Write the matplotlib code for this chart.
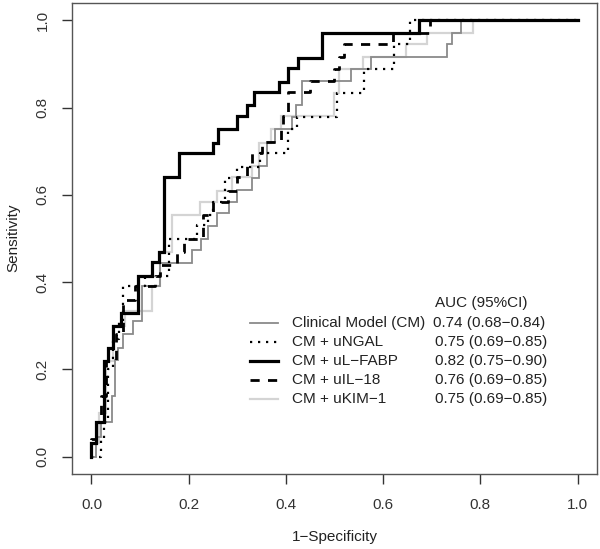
import numpy as np
import matplotlib
matplotlib.use("Agg")
import matplotlib.pyplot as plt
from matplotlib.lines import Line2D

plt.rcParams['font.family'] = ['Liberation Sans', 'DejaVu Sans']

# ROC corner points (1-specificity, sensitivity)
cm_fpr = [0, 0.01, 0.01, 0.02, 0.02, 0.042, 0.042, 0.049, 0.049, 0.054, 0.054, 0.065, 0.065, 0.085, 0.085,
          0.104, 0.104, 0.14, 0.14, 0.207, 0.207, 0.225, 0.225, 0.24, 0.24, 0.258, 0.258, 0.284, 0.284,
          0.30, 0.30, 0.33, 0.33, 0.345, 0.345, 0.361, 0.361, 0.378, 0.378, 0.413, 0.413, 0.42, 0.42,
          0.433, 0.433, 0.534, 0.534, 0.576, 0.576, 0.732, 0.732, 0.742, 0.742, 0.76, 0.76, 1.0]
cm_tpr = [0, 0, 0.045, 0.045, 0.08, 0.08, 0.138, 0.138, 0.222, 0.222, 0.25, 0.25, 0.28, 0.28, 0.31,
          0.31, 0.39, 0.39, 0.443, 0.443, 0.474, 0.474, 0.50, 0.50, 0.529, 0.529, 0.558, 0.558, 0.584,
          0.584, 0.611, 0.611, 0.639, 0.639, 0.667, 0.667, 0.722, 0.722, 0.75, 0.75, 0.779, 0.779, 0.805,
          0.805, 0.861, 0.861, 0.889, 0.889, 0.916, 0.916, 0.947, 0.947, 0.972, 0.972, 1.0, 1.0]

ngal_fpr = [0, 0.02, 0.02, 0.025, 0.025, 0.035, 0.035, 0.045, 0.045, 0.056, 0.056, 0.065, 0.065, 0.11,
            0.11, 0.16, 0.16, 0.217, 0.217, 0.24, 0.24, 0.25, 0.25, 0.275, 0.275, 0.30, 0.30, 0.347,
            0.347, 0.405, 0.405, 0.422, 0.422, 0.505, 0.505, 0.561, 0.561, 0.622, 0.622, 0.655, 0.655, 1.0]
ngal_tpr = [0, 0, 0.04, 0.04, 0.08, 0.08, 0.20, 0.20, 0.27, 0.27, 0.31, 0.31, 0.39, 0.39, 0.415,
            0.415, 0.50, 0.50, 0.53, 0.53, 0.555, 0.555, 0.584, 0.584, 0.638, 0.638, 0.665, 0.665,
            0.696, 0.696, 0.75, 0.75, 0.779, 0.779, 0.833, 0.833, 0.889, 0.889, 0.947, 0.947, 1.0, 1.0]

fabp_fpr = [0, 0, 0.01, 0.01, 0.025, 0.025, 0.035, 0.035, 0.045, 0.045, 0.06, 0.06, 0.095, 0.095, 0.125,
            0.125, 0.138, 0.138, 0.15, 0.15, 0.18, 0.18, 0.25, 0.25, 0.26, 0.26, 0.30, 0.30, 0.32, 0.32,
            0.335, 0.335, 0.385, 0.385, 0.405, 0.405, 0.425, 0.425, 0.475, 0.475, 0.673, 0.673, 1.0]
fabp_tpr = [0, 0.03, 0.03, 0.08, 0.08, 0.22, 0.22, 0.25, 0.25, 0.30, 0.30, 0.33, 0.33, 0.415, 0.415,
            0.445, 0.445, 0.47, 0.47, 0.64, 0.64, 0.695, 0.695, 0.72, 0.72, 0.75, 0.75, 0.78, 0.78,
            0.805, 0.805, 0.835, 0.835, 0.86, 0.86, 0.89, 0.89, 0.915, 0.915, 0.972, 0.972, 1.0, 1.0]

il18_fpr = [0, 0, 0.01, 0.01, 0.02, 0.02, 0.03, 0.03, 0.05, 0.05, 0.065, 0.065, 0.09, 0.09, 0.13, 0.13,
            0.14, 0.14, 0.175, 0.175, 0.19, 0.19, 0.23, 0.23, 0.25, 0.25, 0.28, 0.28, 0.30, 0.30, 0.32,
            0.32, 0.33, 0.33, 0.35, 0.35, 0.39, 0.39, 0.395, 0.395, 0.405, 0.405, 0.45, 0.45, 0.50, 0.50,
            0.51, 0.51, 0.52, 0.52, 0.621, 0.621, 0.696, 0.696, 1.0]
il18_tpr = [0, 0.04, 0.04, 0.08, 0.08, 0.14, 0.14, 0.22, 0.22, 0.28, 0.28, 0.36, 0.36, 0.39, 0.39, 0.415,
            0.415, 0.44, 0.44, 0.47, 0.47, 0.50, 0.50, 0.555, 0.555, 0.584, 0.584, 0.61, 0.61, 0.64, 0.64,
            0.67, 0.67, 0.695, 0.695, 0.722, 0.722, 0.75, 0.75, 0.78, 0.78, 0.836, 0.836, 0.861, 0.861,
            0.889, 0.889, 0.916, 0.916, 0.947, 0.947, 0.972, 0.972, 1.0, 1.0]

kim_fpr = [0, 0, 0.015, 0.015, 0.03, 0.03, 0.045, 0.045, 0.07, 0.07, 0.125, 0.125, 0.14, 0.14, 0.165,
           0.165, 0.224, 0.224, 0.258, 0.258, 0.29, 0.29, 0.33, 0.33, 0.345, 0.345, 0.37, 0.37, 0.39,
           0.39, 0.50, 0.50, 0.51, 0.51, 0.559, 0.559, 0.647, 0.647, 0.691, 0.691, 0.785, 0.785, 1.0]
kim_tpr = [0, 0.03, 0.03, 0.10, 0.10, 0.22, 0.22, 0.30, 0.30, 0.333, 0.333, 0.39, 0.39, 0.47, 0.47,
           0.555, 0.555, 0.584, 0.584, 0.61, 0.61, 0.64, 0.64, 0.667, 0.667, 0.72, 0.72, 0.75, 0.75,
           0.78, 0.78, 0.833, 0.833, 0.889, 0.889, 0.916, 0.916, 0.947, 0.947, 0.972, 0.972, 1.0, 1.0]

labels = ["Clinical Model (CM)", "CM + uNGAL", "CM + uL\u2212FABP", "CM + uIL\u221218", "CM + uKIM\u22121"]
auc_text = ["0.74 (0.68\u22120.84)", "0.75 (0.69\u22120.85)", "0.82 (0.75\u22120.90)",
            "0.76 (0.69\u22120.85)", "0.75 (0.69\u22120.85)"]
ticks = [0.0, 0.2, 0.4, 0.6, 0.8, 1.0]

styles = [
    dict(color="#8a8a8a", lw=1.3, ls="-"),
    dict(color="black", lw=1.6, ls=(0, (1, 2.6))),
    dict(color="black", lw=2.3, ls="-"),
    dict(color="black", lw=2.0, ls=(0, (3.3, 3))),
    dict(color="#d4d4d4", lw=1.6, ls="-"),
]

W, H = 600, 549
fig = plt.figure(figsize=(6, 5.49), dpi=100)
ax = fig.add_axes([72 / W, 1 - 474 / H, (597 - 72) / W, (474 - 3) / H])

curves = [(cm_fpr, cm_tpr), (ngal_fpr, ngal_tpr), (fabp_fpr, fabp_tpr), (il18_fpr, il18_tpr), (kim_fpr, kim_tpr)]
order = [4, 0, 1, 3, 2]
for i in order:
    x, y = curves[i]
    ax.plot(x, y, solid_joinstyle="miter", **styles[i])

ax.set_xlim(-0.04, 1.04)
ax.set_ylim(-0.04, 1.04)
ax.set_xticks(ticks)
ax.set_yticks(ticks)
ax.set_xticklabels([f"{t:.1f}" for t in ticks])
ax.set_yticklabels([f"{t:.1f}" for t in ticks], rotation=90, va="center")
ax.tick_params(direction="out", length=7, width=1, colors="#333333", labelsize=11, pad=9)
ax.tick_params(axis="x", pad=10)
for s in ax.spines.values():
    s.set_color("#555555")
    s.set_linewidth(1.0)

fig.text(335 / W, 1 - 537 / H, "1\u2212Specificity", ha="center", va="center", fontsize=11, color="#222222")
fig.text(13 / W, 1 - 238 / H, "Sensitivity", ha="center", va="center", rotation=90, fontsize=11, color="#222222")

# legend drawn by hand
row_y = [323, 342, 361, 380, 399]
fig.text(435 / W, 1 - 303 / H, "AUC (95%CI)", ha="left", va="center", fontsize=11, color="#222222")
for i in range(5):
    fy = 1 - row_y[i] / H
    fig.add_artist(Line2D([250 / W, 278 / W], [fy, fy], transform=fig.transFigure, **styles[i]))
    fig.text(292 / W, fy, labels[i], ha="left", va="center", fontsize=11, color="#222222")
    fig.text((433 if i == 0 else 435) / W, fy, auc_text[i], ha="left", va="center", fontsize=11, color="#222222")

fig.savefig("out.png", dpi=100)
